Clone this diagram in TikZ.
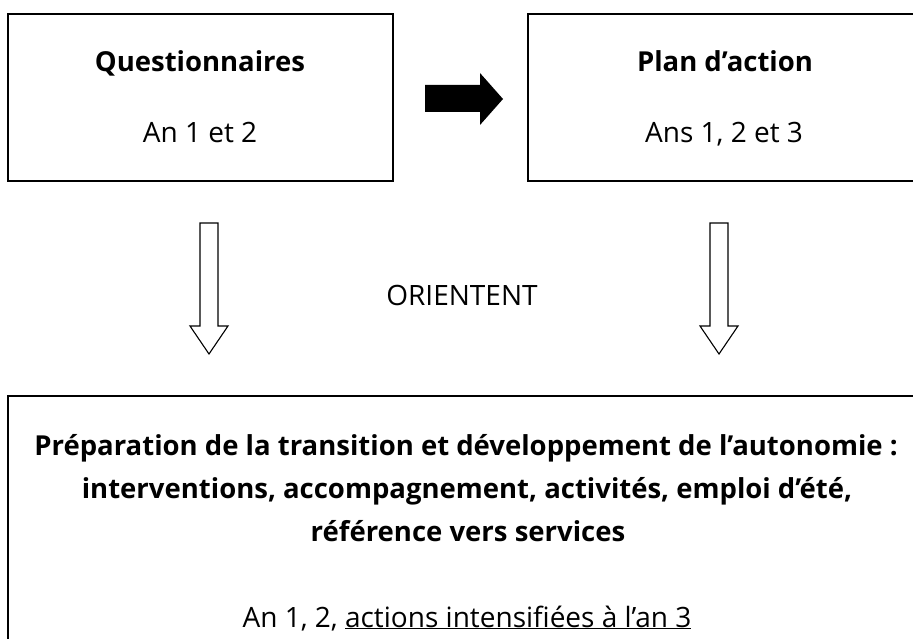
\documentclass[tikz,border=0pt]{standalone}
\usepackage{fontspec}
\setmainfont{Open Sans}
\begin{document}
\begin{tikzpicture}[x=1pt,y=-1pt,
  box/.style={draw=black, line width=1.6pt, inner sep=0pt, outer sep=0pt},
  bigtxt/.style={anchor=base, inner sep=0pt, font=\fontsize{28}{32}\selectfont},
  boldtxt/.style={anchor=base, inner sep=0pt, font=\bfseries\fontsize{27.5}{32}\selectfont},
  hollow/.style={draw=black, line width=1.1pt, fill=white, line join=miter},
  solid arrow/.style={fill=black, draw=none}]
\useasboundingbox (0,0) rectangle (913,639);
\clip (0,0) rectangle (913,639);
\fill[white] (0,0) rectangle (913,639);
% boxes
\node[box, anchor=north west, minimum width=385pt, minimum height=167pt] (q) at (8,14) {};
\node[box, anchor=north west, minimum width=392pt, minimum height=167pt] (pa) at (528,14) {};
\node[box, anchor=north west, minimum width=920pt, minimum height=300pt] (prep) at (8,396) {};
% texts top
\node[boldtxt] (qt) at (200,72) {Questionnaires};
\node[bigtxt] (qs) at (200,143) {An 1 et 2};
\node[boldtxt] (pt) at (725,72) {Plan d’action};
\node[bigtxt] (ps) at (724,143) {Ans 1, 2 et 3};
\node[bigtxt] (ori) at (462,305) {ORIENTENT};
% bottom texts
\node[boldtxt] (l1) at (466,455) {Préparation de la transition et développement de l’autonomie :};
\node[boldtxt] (l2) at (467,498) {interventions, accompagnement, activités, emploi d’été,};
\node[boldtxt] (l3) at (468,541) {référence vers services};
\node[bigtxt] (l4) at (467,627) {An 1, 2, \underline{actions intensifiées à l’an 3}};
% block arrows
\coordinate (ra) at (425,98.5);
\coordinate (rt) at (503,99);
\fill[solid arrow] (425,85) -- (480,85) -- (480,73) -- (rt) -- (480,125) -- (480,112) -- (425,112) -- cycle;
\coordinate (da1) at (209,223);
\coordinate (dt1) at (209,354);
\draw[hollow] (200,223) -- (218,223) -- (218,326) -- (228,326) -- (dt1) -- (190,326) -- (200,326) -- cycle;
\coordinate (da2) at (719,223);
\coordinate (dt2) at (719,354);
\draw[hollow] (710,223) -- (728,223) -- (728,326) -- (738,326) -- (dt2) -- (700,326) -- (710,326) -- cycle;
\end{tikzpicture}
\end{document}
